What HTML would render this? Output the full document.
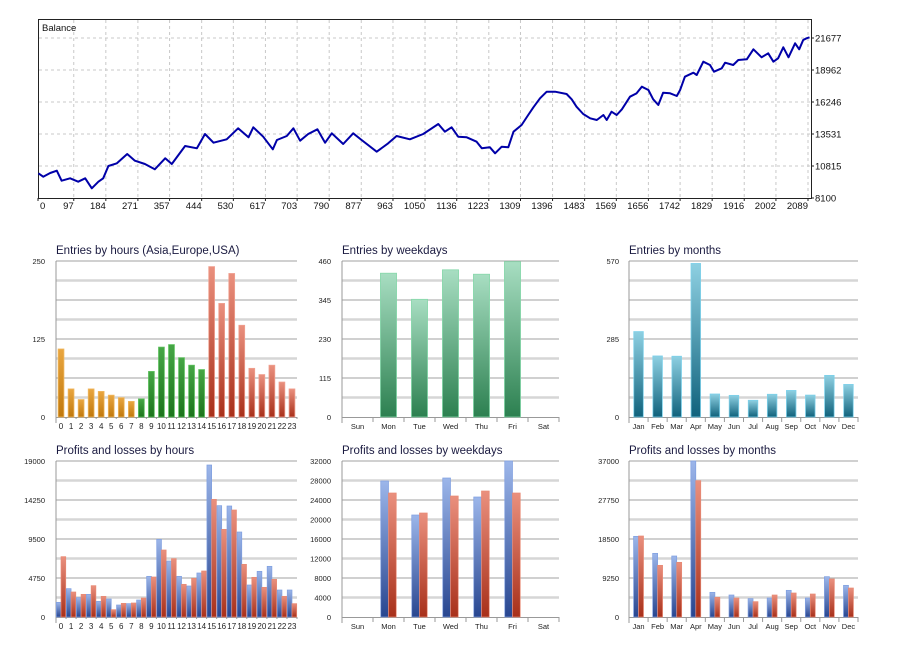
<!DOCTYPE html>
<html><head><meta charset="utf-8"><style>
html,body{margin:0;padding:0;background:#fff;}
svg{display:block;font-family:"Liberation Sans",sans-serif;}
</style></head><body>
<svg id="root" width="911" height="648" viewBox="0 0 911 648" xmlns="http://www.w3.org/2000/svg">
<defs>
<linearGradient id="gOrange" x1="0" y1="0" x2="0" y2="1"><stop offset="0" stop-color="#e9a640"/><stop offset="1" stop-color="#c0780c"/></linearGradient>
<linearGradient id="gGreen" x1="0" y1="0" x2="0" y2="1"><stop offset="0" stop-color="#46a646"/><stop offset="1" stop-color="#1c741c"/></linearGradient>
<linearGradient id="gRed" x1="0" y1="0" x2="0" y2="1"><stop offset="0" stop-color="#ea907e"/><stop offset="1" stop-color="#a8301a"/></linearGradient>
<linearGradient id="gMint" x1="0" y1="0" x2="0" y2="1"><stop offset="0" stop-color="#a8dec2"/><stop offset="1" stop-color="#2c8050"/></linearGradient>
<linearGradient id="gTeal" x1="0" y1="0" x2="0" y2="1"><stop offset="0" stop-color="#8ed0e2"/><stop offset="1" stop-color="#10627c"/></linearGradient>
<linearGradient id="gBlue" x1="0" y1="0" x2="0" y2="1"><stop offset="0" stop-color="#9cb6ea"/><stop offset="1" stop-color="#284690"/></linearGradient>
</defs>
<g id="balance"></g>
<g id="charts"></g>
</svg>
<script>
// ---------- Balance chart data ----------
const balanceIdx = [1,14,33,51,64,87,109,128,146,164,177,191,214,242,263,290,317,345,363,399,431,453,476,512,543,571,584,611,637,648,675,693,711,733,758,779,797,828,855,878,919,950,973,1009,1045,1086,1104,1122,1140,1163,1190,1204,1226,1240,1258,1276,1290,1312,1330,1344,1362,1380,1403,1434,1448,1461,1479,1498,1516,1534,1543,1556,1570,1584,1606,1624,1638,1656,1669,1683,1696,1715,1733,1742,1755,1778,1787,1805,1823,1834,1855,1864,1886,1900,1923,1941,1963,1981,1995,2008,2022,2036,2054,2065,2076,2085,2093];
const balanceVal = [10196,9908,10222,10417,9568,9772,9483,9772,8923,9483,9772,10816,11045,11834,11265,10985,10535,11469,10985,12513,12317,13531,12793,13081,14015,13251,14100,13302,12233,13022,13361,14015,12962,13531,13930,12793,13590,12682,13590,13022,12029,12742,13361,13081,13531,14380,13726,14100,13302,13251,12878,12317,12402,11893,12453,12402,13726,14295,15143,15797,16561,17121,17121,16925,16476,15848,15228,14863,14719,15143,14719,15423,15143,15627,16696,16985,17545,17265,16476,15992,17036,16985,16756,17265,18393,18733,18538,19666,19386,18818,19106,19582,19386,19811,19870,20719,20040,20379,19666,19955,20888,20040,21228,20719,21508,21652,21737];
const balanceXTicks = [0,97,184,271,357,444,530,617,703,790,877,963,1050,1136,1223,1309,1396,1483,1569,1656,1742,1829,1916,2002,2089];
const balanceYTicks = [8100,10815,13531,16246,18962,21677];

// ---------- Small chart data ----------
const hours = ["0","1","2","3","4","5","6","7","8","9","10","11","12","13","14","15","16","17","18","19","20","21","22","23"];
const weekdays = ["Sun","Mon","Tue","Wed","Thu","Fri","Sat"];
const months = ["Jan","Feb","Mar","Apr","May","Jun","Jul","Aug","Sep","Oct","Nov","Dec"];
const entriesHours = [109,45,28,45,41,35,31,25,29,73,112,116,95,83,76,241,182,230,147,78,68,83,56,45];
const entriesWeekdays = [0,424,347,434,421,458,0];
const entriesMonths = [312,223,222,561,84,79,61,83,97,80,152,119];
const profitHours = [1786,3451,2355,2760,1908,2192,1461,1624,2070,4953,9459,6820,4953,3776,5359,18512,13560,13519,10352,3897,5562,6171,3288,3288];
const lossHours = [7348,3045,2760,3816,2517,893,1664,1705,2314,4872,8160,7105,3979,4709,5603,14331,10677,13032,6414,4831,3613,4587,2517,1624];
const profitWeekdays = [0,27897,20923,28513,24615,32000,0];
const lossWeekdays = [0,25436,21333,24820,25846,25436,0];
const profitMonths = [19132,15100,14468,37000,5850,5218,4348,4506,6325,4506,9566,7510];
const lossMonths = [19211,12254,12965,32335,4664,4506,3637,5218,5692,5455,9013,6878];
const ticksEntriesHours = ["0","","125","","250"];
const ticksEntriesWeekdays = ["0","115","230","345","460"];
const ticksEntriesMonths = ["0","","285","","570"];
const ticksProfitHours = ["0","4750","9500","14250","19000"];
const ticksProfitWeekdays = ["0","4000","8000","12000","16000","20000","24000","28000","32000"];
const ticksProfitMonths = ["0","9250","18500","27750","37000"];

const NS = "http://www.w3.org/2000/svg";
function mk(tag, attrs, parent){
  const e = document.createElementNS(NS, tag);
  for (const k in attrs) e.setAttribute(k, attrs[k]);
  parent.appendChild(e);
  return e;
}

// ---------- Balance chart ----------
(function(){
  const g = document.getElementById('balance');
  const L=38, R=808, T=38, B=198, FR=811;
  const xs = i => L + i/2089*(R-L);
  const ys = v => B - (v-8100)/(21677-8100)*(B-T);
  const frame = mk('rect',{x:38.5,y:19.5,width:FR-38,height:B-19,fill:'#fff',stroke:'#222','stroke-width':1},g);
  
  
  balanceXTicks.forEach((t,k)=>{
    const x = xs(t);
    if (k>0) {
      const ln = mk('line',{x1:x,y1:20,x2:x,y2:B,stroke:'#c8c8c8','stroke-dasharray':'3,3'},g);
      
      
    }
    mk('line',{x1:x,y1:B,x2:x,y2:B+3,stroke:'#222'},g);
    const tx = mk('text',{x:k===0?x+2:x,y:B+11,'font-size':'9.5','text-anchor':k===0?'start':'end',fill:'#111'},g);
    tx.textContent = t;
    
    
  });
  balanceYTicks.forEach((t,k)=>{
    const y = ys(t);
    if (k>0) {
      const ln = mk('line',{x1:39,y1:y,x2:FR,y2:y,stroke:'#c8c8c8','stroke-dasharray':'3,3'},g);
      
      
    }
    mk('line',{x1:FR,y1:y,x2:FR+3,y2:y,stroke:'#222'},g);
    const tx = mk('text',{x:FR+4,y:y+3.5,'font-size':'9.5',fill:'#111'},g);
    tx.textContent = t;
    
    
  });
  let d='';
  balanceIdx.forEach((i,k)=>{ d += (k?'L':'M') + xs(i).toFixed(1) + ',' + ys(balanceVal[k]).toFixed(1); });
  const p = mk('path',{d:d,fill:'none',stroke:'#0000a8','stroke-width':2,'stroke-linejoin':'round'},g);
  
  
  const tt = mk('text',{x:42,y:31,'font-size':'9.5',fill:'#111'},g);
  tt.textContent = 'Balance';
  
  
})();

// ---------- Small bar charts ----------
function barChart(opt){
  const root = document.getElementById('charts');
  const g = mk('g',{},root);
  
  
  const L=opt.L, R=opt.R, T=opt.T, B=opt.B;
  const n = opt.cats.length, slot=(R-L)/n;
  const ys = v => B - v/opt.max*(B-T);
  for (let k=1;k<=8;k++){
    const y = B - k/8*(B-T);
    const dark = k%2===0;
    const ln = mk('line',{x1:L,y1:y,x2:R,y2:y,stroke:dark?'#a0a0a0':'#d6d6d6','stroke-width':dark?1:2.5},g);
    
    
  }
  mk('line',{x1:L,y1:T,x2:L,y2:B+6,stroke:'#999'},g);
  mk('line',{x1:L,y1:B+0.5,x2:R,y2:B+0.5,stroke:'#999'},g);
  for (let k=0;k<=n;k++){ const x=L+k*slot; mk('line',{x1:x,y1:B,x2:x,y2:B+(opt.hourTicks?2:5),stroke:'#999'},g); }
  const tk = opt.ticks, m = tk.length-1;
  tk.forEach((t,k)=>{
    if (!t) return;
    const y = B - k/m*(B-T);
    const tx = mk('text',{x:L-opt.lblGap,y:y+3,'font-size':'7.5','text-anchor':'end',fill:'#222'},g);
    tx.textContent = t;
    
    
  });
  opt.cats.forEach((c,i)=>{
    const cx = L + (i+0.5)*slot;
    const tx = mk('text',{x:cx,y:B+12,'font-size':opt.catSize||'8','text-anchor':'middle',fill:'#222'},g);
    tx.textContent = c;
    
    
    if (opt.single){
      const v = opt.single[i]; if (!v) return;
      const w = slot*opt.bw, y=ys(v);
      const r = mk('rect',{x:cx-w/2,y:y,width:w,height:B-y,fill:opt.fill(i),stroke:opt.stroke(i),'stroke-width':0.8},g);
      
      
    } else {
      const w = slot*opt.bw;
      [[opt.a,'url(#gBlue)','#7f9fe0','profit'],[opt.b,'url(#gRed)','#e88a74','loss']].forEach((s,j)=>{
        const v = s[0][i]; if (!v) return;
        const y = ys(v);
        const r = mk('rect',{x:cx-w+j*w,y:y,width:w,height:B-y,fill:s[1],stroke:s[2],'stroke-width':0.7},g);
        
        
      });
    }
  });
  const tt = mk('text',{x:L,y:T-7,'font-size':'11.5',fill:'#1a1a40'},g);
  tt.textContent = opt.title;
  
  
}
const hourFill = i => i<8?'url(#gOrange)':(i<15?'url(#gGreen)':'url(#gRed)');
const hourStroke = i => i<8?'#f0b860':(i<15?'#5cc05c':'#f0a090');
barChart({name:'entries-by-hours-chart',title:'Entries by hours (Asia,Europe,USA)',L:56,R:297,T:261,B:417,max:250,ticks:ticksEntriesHours,lblGap:11,cats:hours,single:entriesHours,bw:0.58,fill:hourFill,stroke:hourStroke,hourTicks:true});
barChart({name:'entries-by-weekdays-chart',title:'Entries by weekdays',L:342,R:559,T:261,B:417,max:460,ticks:ticksEntriesWeekdays,lblGap:11,cats:weekdays,single:entriesWeekdays,bw:0.52,fill:()=> 'url(#gMint)',stroke:()=> '#86d8aa',catSize:'7.5'});
barChart({name:'entries-by-months-chart',title:'Entries by months',L:629,R:858,T:261,B:417,max:570,ticks:ticksEntriesMonths,lblGap:10,cats:months,single:entriesMonths,bw:0.5,fill:()=> 'url(#gTeal)',stroke:()=> '#7cd0ea',catSize:'7.5'});
barChart({name:'profits-by-hours-chart',title:'Profits and losses by hours',L:56,R:297,T:461,B:617,max:19000,ticks:ticksProfitHours,lblGap:11,cats:hours,a:profitHours,b:lossHours,bw:0.47,hourTicks:true});
barChart({name:'profits-by-weekdays-chart',title:'Profits and losses by weekdays',L:342,R:559,T:461,B:617,max:32000,ticks:ticksProfitWeekdays,lblGap:11,cats:weekdays,a:profitWeekdays,b:lossWeekdays,bw:0.25,catSize:'7.5'});
barChart({name:'profits-by-months-chart',title:'Profits and losses by months',L:629,R:858,T:461,B:617,max:37000,ticks:ticksProfitMonths,lblGap:10,cats:months,a:profitMonths,b:lossMonths,bw:0.26,catSize:'7.5'});
</script>
</body></html>
